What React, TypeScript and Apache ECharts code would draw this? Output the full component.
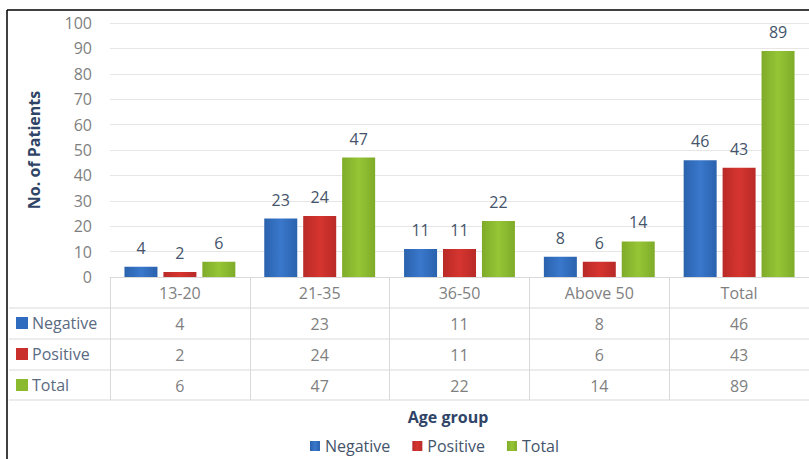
import React, { useEffect, useRef } from "react";
import * as echarts from "echarts";

const categories = ["13-20", "21-35", "36-50", "Above 50", "Total"];
const negative = [4, 23, 11, 8, 46];
const positive = [2, 24, 11, 6, 43];
const total = [6, 47, 22, 14, 89];
const seriesNames = ["Negative", "Positive", "Total"];

const FONT = "'Open Sans', sans-serif";
const GRAY = "#7f7f7f";
const SLATE = "#44546a";
const LINE = "#d9d9d9";

const barGradient = (edge: string, mid: string) =>
  new echarts.graphic.LinearGradient(0, 0, 1, 0, [
    { offset: 0, color: edge },
    { offset: 0.5, color: mid },
    { offset: 1, color: edge },
  ]);

const COLORS = [
  { swatch: "#2f6cbf", fill: barGradient("#2a62ad", "#3a78cc") },
  { swatch: "#c9302c", fill: barGradient("#b92a27", "#d6352f") },
  { swatch: "#8bba2f", fill: barGradient("#7fab2a", "#96c535") },
];

export default function App() {
  const ref = useRef<HTMLDivElement>(null);

  useEffect(() => {
    if (!ref.current) return;
    const chart = echarts.init(ref.current, null, { renderer: "svg" });

    const rows = [negative, positive, total];
    const rowY = [323, 354, 385];
    const tableLines = [308, 339, 370, 400];

    const graphics: any[] = [
      // frame
      { type: "line", shape: { x1: 7, y1: 10, x2: 809, y2: 10 }, style: { stroke: "#000", lineWidth: 1.5 } },
      { type: "line", shape: { x1: 7, y1: 10, x2: 7, y2: 459 }, style: { stroke: "#000", lineWidth: 1.5 } },
      // axis title
      {
        type: "text",
        x: 448,
        y: 417,
        style: { text: "Age group", font: `bold 16px ${FONT}`, fill: "#2f4467", align: "center", verticalAlign: "middle" },
      },
    ];
    tableLines.forEach((y) =>
      graphics.push({ type: "line", shape: { x1: 9, y1: y, x2: 809, y2: y }, style: { stroke: LINE, lineWidth: 1 } })
    );
    seriesNames.forEach((name, i) => {
      graphics.push({ type: "rect", shape: { x: 16, y: rowY[i] - 6, width: 12, height: 12 }, style: { fill: COLORS[i].swatch } });
      graphics.push({
        type: "text",
        x: 32,
        y: rowY[i],
        style: { text: name, font: `16px ${FONT}`, fill: "#5a6a82", verticalAlign: "middle" },
      });
    });

    chart.setOption({
      animation: false,
      backgroundColor: "#fff",
      textStyle: { fontFamily: FONT },
      grid: { left: 110, top: 23, width: 704, height: 254 },
      legend: {
        data: seriesNames,
        left: 310,
        top: 438,
        padding: 0,
        itemWidth: 10,
        itemHeight: 10,
        itemGap: 22,
        icon: "rect",
        textStyle: { fontSize: 16, color: SLATE, fontFamily: FONT },
      },
      xAxis: {
        type: "category",
        data: categories,
        axisLine: { show: true, lineStyle: { color: LINE } },
        axisTick: { show: true, length: 123, lineStyle: { color: LINE } },
        axisLabel: {
          interval: 0,
          margin: 0,
          lineHeight: 31,
          fontSize: 16,
          color: GRAY,
          fontFamily: FONT,
          formatter: (v: string, idx: number) => [v, ...rows.map((r) => String(r[idx]))].join("\n"),
        },
      },
      yAxis: {
        type: "value",
        min: 0,
        max: 100,
        interval: 10,
        name: "No. of Patients",
        nameLocation: "middle",
        nameGap: 68,
        nameTextStyle: { fontSize: 16, fontWeight: "bold", color: "#2f4467", fontFamily: FONT },
        axisLine: { show: false },
        axisTick: { show: false },
        axisLabel: { margin: 18, fontSize: 16, color: GRAY, fontFamily: FONT },
        splitLine: { lineStyle: { color: "#e6e6e6" } },
      },
      series: rows.map((data, i) => ({
        name: seriesNames[i],
        type: "bar",
        data,
        barWidth: 33,
        barGap: "18%",
        itemStyle: { color: COLORS[i].fill },
        label: { show: true, position: "top", distance: 11, fontSize: 16, color: SLATE, fontFamily: FONT },
      })),
      graphic: graphics,
    });

    return () => chart.dispose();
  }, []);

  return <div ref={ref} style={{ width: 809, height: 459, position: "absolute", left: 0, top: 0 }} />;
}
